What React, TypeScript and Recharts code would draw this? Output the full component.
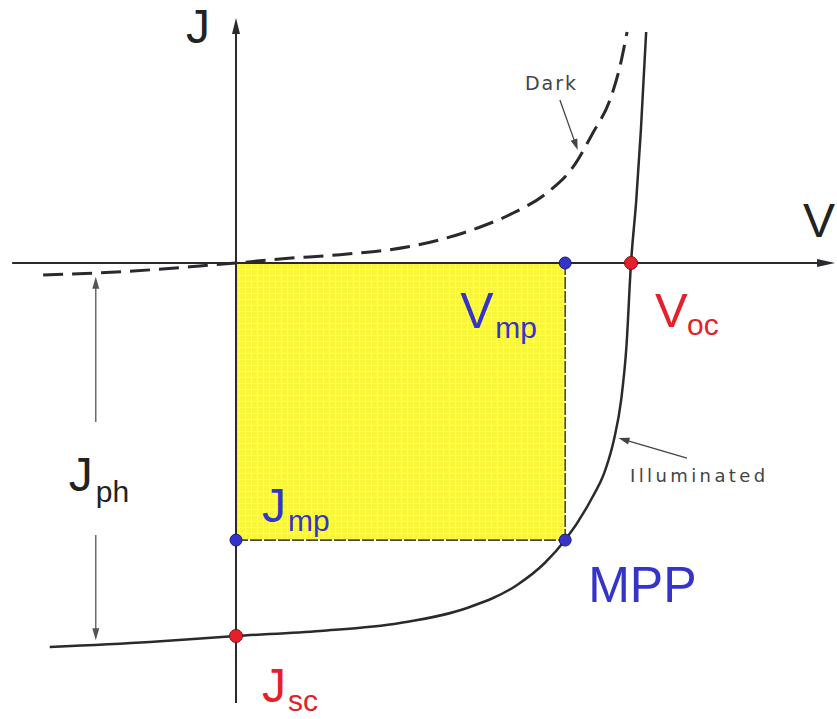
import {
  ComposedChart,
  Line,
  Scatter,
  XAxis,
  YAxis,
  ReferenceArea,
  ReferenceLine,
  ReferenceDot,
} from "recharts";

// Illuminated J-V curve (V in volts, J in mA/cm²)
const illuminatedCurve = [
  { v: -0.283, j: -36.03 },
  { v: -0.131, j: -35.56 },
  { v: 0.0, j: -35.0 },
  { v: 0.128, j: -34.53 },
  { v: 0.249, j: -33.78 },
  { v: 0.351, j: -32.37 },
  { v: 0.427, j: -30.21 },
  { v: 0.469, j: -28.15 },
  { v: 0.5, j: -26.0 },
  { v: 0.539, j: -22.24 },
  { v: 0.561, j: -19.42 },
  { v: 0.574, j: -16.61 },
  { v: 0.585, j: -12.86 },
  { v: 0.593, j: -7.88 },
  { v: 0.6, j: 0 },
  { v: 0.608, j: 5.91 },
  { v: 0.615, j: 12.48 },
  { v: 0.623, j: 21.68 },
];

// Dark J-V curve
const darkCurve = [
  { v: -0.293, j: -1.13 },
  { v: -0.156, j: -0.75 },
  { v: -0.055, j: -0.28 },
  { v: 0.0, j: 0 },
  { v: 0.067, j: 0.38 },
  { v: 0.169, j: 0.84 },
  { v: 0.269, j: 1.6 },
  { v: 0.345, j: 2.82 },
  { v: 0.371, j: 3.38 },
  { v: 0.421, j: 4.69 },
  { v: 0.472, j: 6.57 },
  { v: 0.512, j: 9.01 },
  { v: 0.542, j: 12.2 },
  { v: 0.568, j: 15.3 },
  { v: 0.583, j: 18.39 },
  { v: 0.594, j: 21.68 },
];

// Characteristic values
const Voc = 0.6;
const Vmp = 0.5;
const Jmp = -26;
const Jsc = -35;

const keyPoints = [
  { id: "Vmp", v: Vmp, j: 0, kind: "mp" },
  { id: "Voc", v: Voc, j: 0, kind: "oc" },
  { id: "Jmp", v: 0, j: Jmp, kind: "mp" },
  { id: "MPP", v: Vmp, j: Jmp, kind: "mp" },
  { id: "Jsc", v: 0, j: Jsc, kind: "sc" },
];

// Axis extents and pointer segments
const vAxisRange = [-0.34, 0.91];
const jAxisRange = [-41.29, 22.99];
const jphV = -0.213;
const jphUpper = [-14.92, -1.3];
const jphLower = [-25.52, -35.4];
const darkPointer = [
  { v: 0.492, j: 15.3 },
  { v: 0.519, j: 10.6 },
];
const illumPointer = [
  { v: 0.685, j: -18.3 },
  { v: 0.581, j: -16.42 },
];

const V_MIN = -0.3585;
const V_MAX = 0.9129;
const J_MIN = -42.79;
const J_MAX = 24.68;

const BLUE = "#3434c8";
const RED = "#e5202a";
const INK = "#2a2a2e";
const FONT = "'Liberation Sans', Arial, sans-serif";
const SMALL_FONT = "'DejaVu Sans', sans-serif";

const arrowLine =
  (color: string, width: number, headLen: number, headHalf: number, heads: "end" | "none" = "end", dash?: string) =>
  (p: any) => {
    const { x1, y1, x2, y2 } = p;
    const a = Math.atan2(y2 - y1, x2 - x1);
    const bx = x2 - headLen * Math.cos(a);
    const by = y2 - headLen * Math.sin(a);
    const lx = heads === "none" ? x2 : bx + Math.cos(a);
    const ly = heads === "none" ? y2 : by + Math.sin(a);
    return (
      <g>
        <line x1={x1} y1={y1} x2={lx} y2={ly} stroke={color} strokeWidth={width} strokeDasharray={dash} />
        {heads !== "none" && (
          <polygon
            points={`${x2},${y2} ${bx + headHalf * Math.sin(a)},${by - headHalf * Math.cos(a)} ${bx - headHalf * Math.sin(a)},${by + headHalf * Math.cos(a)}`}
            fill={color}
          />
        )}
      </g>
    );
  };

const textShape =
  (main: string, color: string, dx: number, dy: number, size = 48, sub?: string, subDx = 0, subDy = 0, subSize = 30, family = FONT, spacing = 0) =>
  (p: any) => (
    <g>
      <text x={p.cx + dx} y={p.cy + dy} fill={color} fontSize={size} fontFamily={family} letterSpacing={spacing}>
        {main}
      </text>
      {sub && (
        <text x={p.cx + dx + subDx} y={p.cy + dy + subDy} fill={color} fontSize={subSize} fontFamily={family}>
          {sub}
        </text>
      )}
    </g>
  );

const dotShape = (p: any) => {
  const red = p.payload.kind === "oc" || p.payload.kind === "sc";
  return (
    <circle
      cx={p.cx}
      cy={p.cy}
      r={red ? 6.5 : 6}
      fill={red ? RED : BLUE}
      stroke={red ? "#7a1010" : "#1c1c70"}
      strokeWidth={1}
    />
  );
};

export default function App() {
  return (
    <div style={{ position: "absolute", left: 0, top: 0, background: "#fff" }}>
      <ComposedChart width={837} height={719} margin={{ top: 0, right: 0, bottom: 0, left: 0 }}>
        <defs>
          <pattern id="yellowGrid" width="6" height="6" patternUnits="userSpaceOnUse">
            <rect width="6" height="6" fill="#f9f63a" />
            <path d="M5.5 0 V6 M0 5.5 H6" stroke="#faf79e" strokeWidth="1" />
          </pattern>
        </defs>
        <XAxis type="number" dataKey="v" domain={[V_MIN, V_MAX]} hide allowDataOverflow />
        <YAxis type="number" dataKey="j" domain={[J_MIN, J_MAX]} hide allowDataOverflow />

        {/* power rectangle Vmp x Jmp */}
        <ReferenceArea x1={0} x2={Vmp} y1={Jmp} y2={0} fill="url(#yellowGrid)" fillOpacity={1} stroke="none" />
        <ReferenceLine
          segment={[{ x: Vmp, y: 0 }, { x: Vmp, y: Jmp }]}
          shape={arrowLine("#4a4a40", 1.6, 0, 0, "none", "12 2")}
        />
        <ReferenceLine
          segment={[{ x: 0, y: Jmp }, { x: Vmp, y: Jmp }]}
          shape={arrowLine("#4a4a40", 1.6, 0, 0, "none", "12 2")}
        />

        {/* axes */}
        <ReferenceLine
          segment={[{ x: vAxisRange[0], y: 0 }, { x: vAxisRange[1], y: 0 }]}
          shape={arrowLine(INK, 2, 18, 4)}
        />
        <ReferenceLine
          segment={[{ x: 0, y: jAxisRange[0] }, { x: 0, y: jAxisRange[1] }]}
          shape={arrowLine(INK, 2, 16, 4)}
        />

        {/* Jph double arrow */}
        <ReferenceLine
          segment={[{ x: jphV, y: jphUpper[0] }, { x: jphV, y: jphUpper[1] }]}
          shape={arrowLine("#555", 1.3, 12, 3.5)}
        />
        <ReferenceLine
          segment={[{ x: jphV, y: jphLower[0] }, { x: jphV, y: jphLower[1] }]}
          shape={arrowLine("#555", 1.3, 12, 3.5)}
        />

        {/* curve pointers */}
        <ReferenceLine
          segment={[{ x: darkPointer[0].v, y: darkPointer[0].j }, { x: darkPointer[1].v, y: darkPointer[1].j }]}
          shape={arrowLine("#444", 1.3, 11, 3.5)}
        />
        <ReferenceLine
          segment={[{ x: illumPointer[0].v, y: illumPointer[0].j }, { x: illumPointer[1].v, y: illumPointer[1].j }]}
          shape={arrowLine("#444", 1.3, 11, 3.5)}
        />

        <Line
          data={darkCurve}
          dataKey="j"
          type="monotone"
          stroke={INK}
          strokeWidth={3}
          strokeDasharray="20 9"
          dot={false}
          activeDot={false}
          isAnimationActive={false}
        />
        <Line
          data={illuminatedCurve}
          dataKey="j"
          type="monotone"
          stroke={INK}
          strokeWidth={2.5}
          dot={false}
          activeDot={false}
          isAnimationActive={false}
        />
        <Scatter data={keyPoints} dataKey="j" shape={dotShape} activeShape={dotShape} isAnimationActive={false} />

        {/* labels */}
        <ReferenceDot x={0} y={jAxisRange[1]} r={0} shape={textShape("J", "#222", -50, 25)} />
        <ReferenceDot x={vAxisRange[1]} y={0} r={0} shape={textShape("V", "#222", -32, -26)} />
        <ReferenceDot x={Vmp} y={0} r={0} shape={textShape("V", BLUE, -105, 65, 50, "mp", 35, 10)} />
        <ReferenceDot x={Voc} y={0} r={0} shape={textShape("V", RED, 24, 64, 49, "oc", 32, 8)} />
        <ReferenceDot x={0} y={Jmp} r={0} shape={textShape("J", BLUE, 26, -18, 48, "mp", 26, 9)} />
        <ReferenceDot x={0} y={Jsc} r={0} shape={textShape("J", RED, 26, 66, 48, "sc", 26, 9)} />
        <ReferenceDot x={Vmp} y={Jmp} r={0} shape={textShape("MPP", BLUE, 23, 62, 50)} />
        <ReferenceDot x={jphV} y={-17.5} r={0} shape={textShape("J", "#222", -27, 42, 48, "ph", 27, 11)} />
        <ReferenceDot
          x={darkPointer[0].v}
          y={darkPointer[0].j}
          r={0}
          shape={textShape("Dark", "#444", -35, -10, 19, undefined, 0, 0, 0, SMALL_FONT, 2)}
        />
        <ReferenceDot
          x={illumPointer[0].v}
          y={illumPointer[0].j}
          r={0}
          shape={textShape("Illuminated", "#444", -57, 24, 18, undefined, 0, 0, 0, SMALL_FONT, 3.4)}
        />
      </ComposedChart>
    </div>
  );
}
